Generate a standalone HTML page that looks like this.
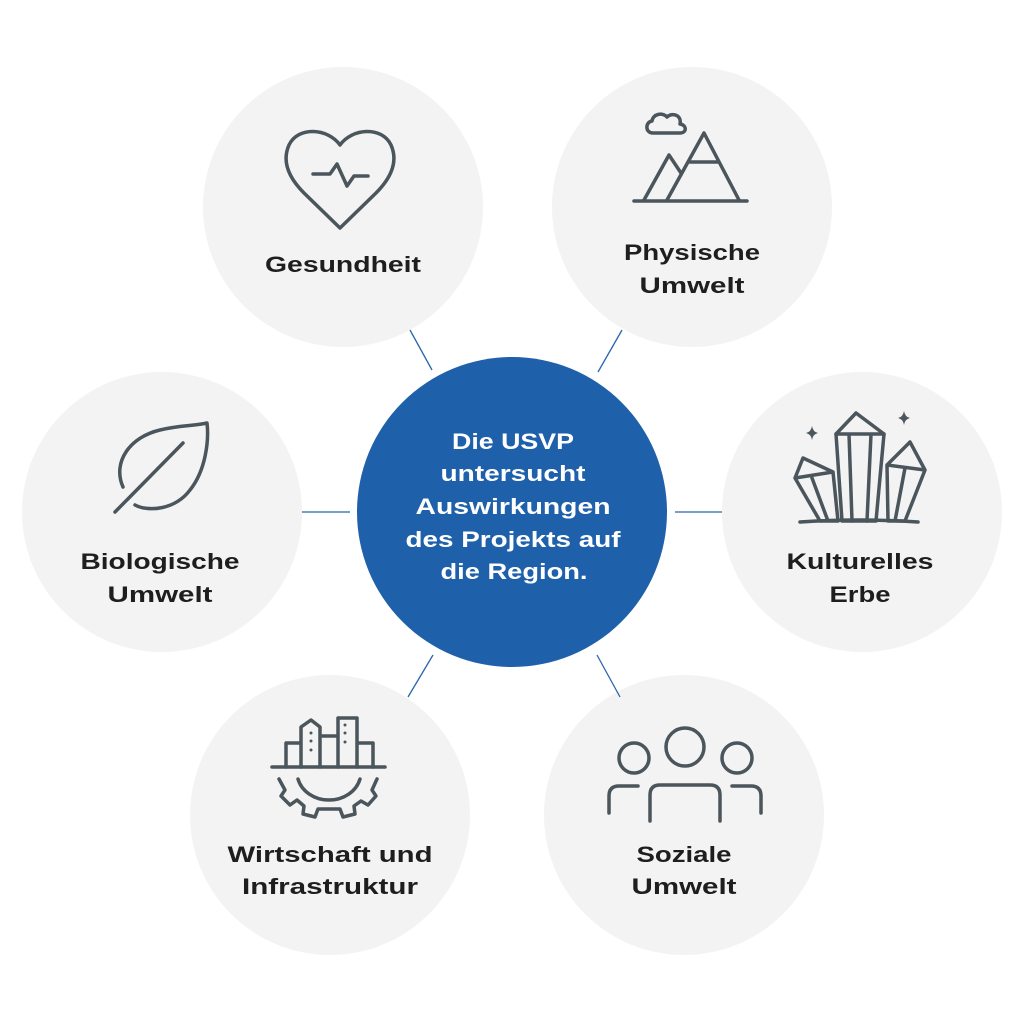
<!DOCTYPE html>
<html><head><meta charset="utf-8"><style>
html,body{margin:0;padding:0;background:#fff}
svg{display:block}
text{font-family:"Liberation Sans",sans-serif;font-weight:bold;text-anchor:middle}
</style></head><body>
<svg width="1024" height="1024" viewBox="0 0 1024 1024" xmlns="http://www.w3.org/2000/svg">
<g fill="#f3f3f3">
<circle cx="343" cy="207" r="140"/>
<circle cx="692" cy="207" r="140"/>
<circle cx="162" cy="512" r="140"/>
<circle cx="862" cy="512" r="140"/>
<circle cx="330" cy="815" r="140"/>
<circle cx="684" cy="815" r="140"/>
</g>
<g stroke="#2a65ad" stroke-width="1.3">
<line x1="410" y1="330" x2="432" y2="370"/>
<line x1="622" y1="330" x2="598" y2="372"/>
<line x1="302" y1="512" x2="350" y2="512"/>
<line x1="675" y1="512" x2="722" y2="512"/>
<line x1="433" y1="655" x2="408" y2="697"/>
<line x1="597" y1="655" x2="620" y2="697"/>
</g>
<circle cx="512" cy="512" r="155" fill="#1f60ab"/>
<g fill="#fff" font-size="22">
<text x="513" y="449" textLength="122" lengthAdjust="spacingAndGlyphs">Die USVP</text>
<text x="513" y="481" textLength="145" lengthAdjust="spacingAndGlyphs">untersucht</text>
<text x="513" y="514" textLength="195" lengthAdjust="spacingAndGlyphs">Auswirkungen</text>
<text x="513" y="547" textLength="215" lengthAdjust="spacingAndGlyphs">des Projekts auf</text>
<text x="514" y="579" textLength="147" lengthAdjust="spacingAndGlyphs">die Region.</text>
</g>
<g fill="#1e1e1e" font-size="22">
<text x="343" y="272" textLength="156" lengthAdjust="spacingAndGlyphs">Gesundheit</text>
<text x="692" y="260" textLength="136" lengthAdjust="spacingAndGlyphs">Physische</text>
<text x="692" y="293" textLength="105" lengthAdjust="spacingAndGlyphs">Umwelt</text>
<text x="160" y="569" textLength="159" lengthAdjust="spacingAndGlyphs">Biologische</text>
<text x="160" y="602" textLength="105" lengthAdjust="spacingAndGlyphs">Umwelt</text>
<text x="860" y="569" textLength="147" lengthAdjust="spacingAndGlyphs">Kulturelles</text>
<text x="860" y="602" textLength="61" lengthAdjust="spacingAndGlyphs">Erbe</text>
<text x="330" y="862" textLength="205" lengthAdjust="spacingAndGlyphs">Wirtschaft und</text>
<text x="330" y="894" textLength="176" lengthAdjust="spacingAndGlyphs">Infrastruktur</text>
<text x="684" y="862" textLength="95" lengthAdjust="spacingAndGlyphs">Soziale</text>
<text x="684" y="894" textLength="105" lengthAdjust="spacingAndGlyphs">Umwelt</text>
</g>
<g fill="#4a555c">
<path d="M812 426 Q813 432 818 433 Q813 434 812 440 Q811 434 806 433 Q811 432 812 426 Z"/>
<path d="M904 411 Q905 417 910 418 Q905 419 904 425 Q903 419 898 418 Q903 417 904 411 Z"/>
</g>
<g fill="none" stroke="#4a555c" stroke-width="3.5" stroke-linecap="round" stroke-linejoin="round">
<path d="M340 145 C328 128 298 126 289 145 C281 163 291 180 304 193 L340 228 L376 193 C389 180 399 163 391 145 C382 126 352 128 340 145 Z"/>
<path d="M313 174 L330 174 L337 164 L347 186 L354 176 L368 176"/>
<path d="M653 133 C645 133 645 122 652 121 C653 114 662 112 667 117 C672 112 682 115 680 124 C687 125 687 133 680 133 Z"/>
<path d="M634 201 L747 201"/>
<path d="M644 200 L669 155 L681 173"/>
<path d="M667 200 L704 133 L739 200"/>
<path d="M690 162 L718 162"/>
<path d="M856 413 L884 434 L876 521 L842 521 L836 434 Z"/>
<path d="M836 434 L884 434 M849 434 L852 521 M871 434 L867 521"/>
<path d="M803 458 L833 472 L838 521 L820 521 L795 478 Z M795 478 L833 472 M812 478 L828 521"/>
<path d="M910 442 L925 470 L905 521 L888 521 L887 465 Z M887 465 L925 470 M905 468 L895 521"/>
<path d="M800 522 Q858 518 918 522"/>
<path d="M123 487 C112 462 130 437 160 430 C180 425 195 426 207 423 C209 440 206 470 190 490 C175 510 148 512 135 505"/>
<path d="M115 512 L183 443"/>
<path d="M272 767 L385 767"/>
<path d="M286 767 L286 743 L300 743 M301 767 L301 727 L311 720 L320 727 L320 767 M320 736 L338 736 M338 767 L338 718 L357 718 L357 767 M357 743 L373 743 L373 767"/>
<path d="M311 733 v0 M311 741 v0 M311 750 v0 M345 725 v0 M345 733 v0 M345 742 v0" stroke-width="3"/>
<path d="M298 779 A32 28 0 0 0 360 779"/>
<path d="M279 779 L285 790 L281 796 L290 805 L297 800 L304 806 L303 814 L315 817 L318 809 L340 809 L343 817 L355 814 L354 806 L361 801 L368 805 L376 796 L372 790 L377 779"/>
<circle cx="685" cy="747" r="19"/>
<circle cx="634" cy="758" r="15"/>
<circle cx="737" cy="758" r="15"/>
<path d="M650 821 L650 795 Q650 785 660 785 L710 785 Q720 785 720 795 L720 821"/>
<path d="M609 813 L609 796 Q609 786 619 786 L638 786"/>
<path d="M761 813 L761 796 Q761 786 751 786 L732 786"/>
</g>
</svg>
</body></html>
